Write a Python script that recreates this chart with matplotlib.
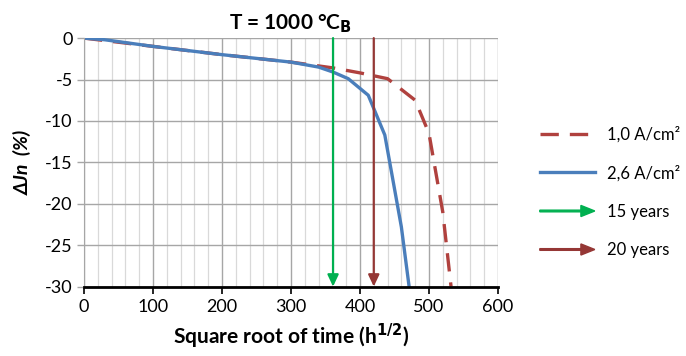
import matplotlib.pyplot as plt
import numpy as np
from matplotlib.patches import FancyArrow, Patch
from matplotlib.legend_handler import HandlerPatch
from matplotlib.lines import Line2D

plt.rcParams['font.family'] = ['Lato', 'DejaVu Sans']
plt.rcParams['axes.unicode_minus'] = False

# curve data
x_10 = [0, 100, 200, 300, 361, 400, 440, 480, 500, 520, 532]
y_10 = [0, -1.0, -2.0, -2.9, -3.6, -4.2, -4.9, -7.5, -11.5, -21.0, -30.0]
x_26 = [0, 30, 100, 200, 300, 340, 361, 383, 412, 436, 460, 472]
y_26 = [0, -0.2, -1.0, -2.0, -2.9, -3.5, -4.1, -4.9, -6.9, -11.7, -22.8, -30.5]

arrow_x = [361, 420]
arrow_labels = ['15 years', '20 years']
arrow_colors = ['#00b050', '#953735']

red = '#b0413e'
blue = '#4a7ebb'

fig = plt.figure(figsize=(6.86, 3.56), dpi=100)
ax = fig.add_axes([0.1224, 0.195, 0.6035, 0.698])

ax.set_xlim(0, 600)
ax.set_ylim(-30, 0)
ax.set_xticks(np.arange(0, 601, 100))
ax.set_xticks(np.arange(0, 601, 20), minor=True)
ax.set_yticks(np.arange(-30, 1, 5))
ax.grid(which='minor', axis='x', color='#d9d9d9', lw=0.9)
ax.grid(which='major', axis='x', color='#a6a6a6', lw=1.0)
ax.grid(which='major', axis='y', color='#a6a6a6', lw=1.0)
ax.set_axisbelow(True)
ax.tick_params(which='minor', length=0)
ax.tick_params(axis='x', which='major', length=5, width=1.2, color='black', labelsize=13, pad=4)
ax.tick_params(axis='y', which='major', length=5, width=1.0, color='#a6a6a6', labelsize=13, pad=3)
for s in ['top', 'right']:
    ax.spines[s].set_visible(False)
ax.spines['left'].set_color('#a6a6a6')
ax.spines['bottom'].set_color('black')
ax.spines['bottom'].set_linewidth(2)
ax.spines['bottom'].set_zorder(5)

ax.plot(x_10, y_10, color=red, lw=2.4, dashes=(5.5, 3.3), label='1,0 A/cm²')
ax.plot(x_26, y_26, color=blue, lw=2.4, label='2,6 A/cm²')

for xv, c in zip(arrow_x, arrow_colors):
    ax.annotate('', xy=(xv, -30), xytext=(xv, 0),
                arrowprops=dict(arrowstyle='-|>,head_length=0.7,head_width=0.33',
                                color=c, lw=1.6, shrinkA=0, shrinkB=0))

ax.set_title('T = 1000 °C$_\\mathbf{B}$', fontsize=15, fontweight='bold', pad=6)
ax.set_xlabel('Square root of time (h$^{\\mathbf{1/2}}$)', fontsize=15, fontweight='bold', labelpad=5)
ax.set_ylabel('ΔJn  (%)', fontsize=14, fontweight='bold', fontstyle='italic', labelpad=10)


def make_arrow(legend, orig_handle, xdescent, ydescent, width, height, fontsize):
    return FancyArrow(-xdescent, height / 2 - ydescent, width, 0, width=1.2,
                      head_width=8, head_length=10, length_includes_head=True)


handles = [Line2D([], [], color=red, lw=2.4, dashes=(5.5, 3.3)),
           Line2D([], [], color=blue, lw=2.4)]
labels = ['1,0 A/cm²', '2,6 A/cm²']
hmap = {}
for lab, c in zip(arrow_labels, arrow_colors):
    p = Patch(color=c)
    handles.append(p)
    labels.append(lab)
    hmap[p] = HandlerPatch(patch_func=make_arrow)

fig.legend(handles, labels, handler_map=hmap, loc='upper left',
           bbox_to_anchor=(0.765, 0.688), frameon=False, fontsize=12,
           handlelength=3.3, handletextpad=0.75, labelspacing=1.35)

fig.savefig('out.png', dpi=100)
